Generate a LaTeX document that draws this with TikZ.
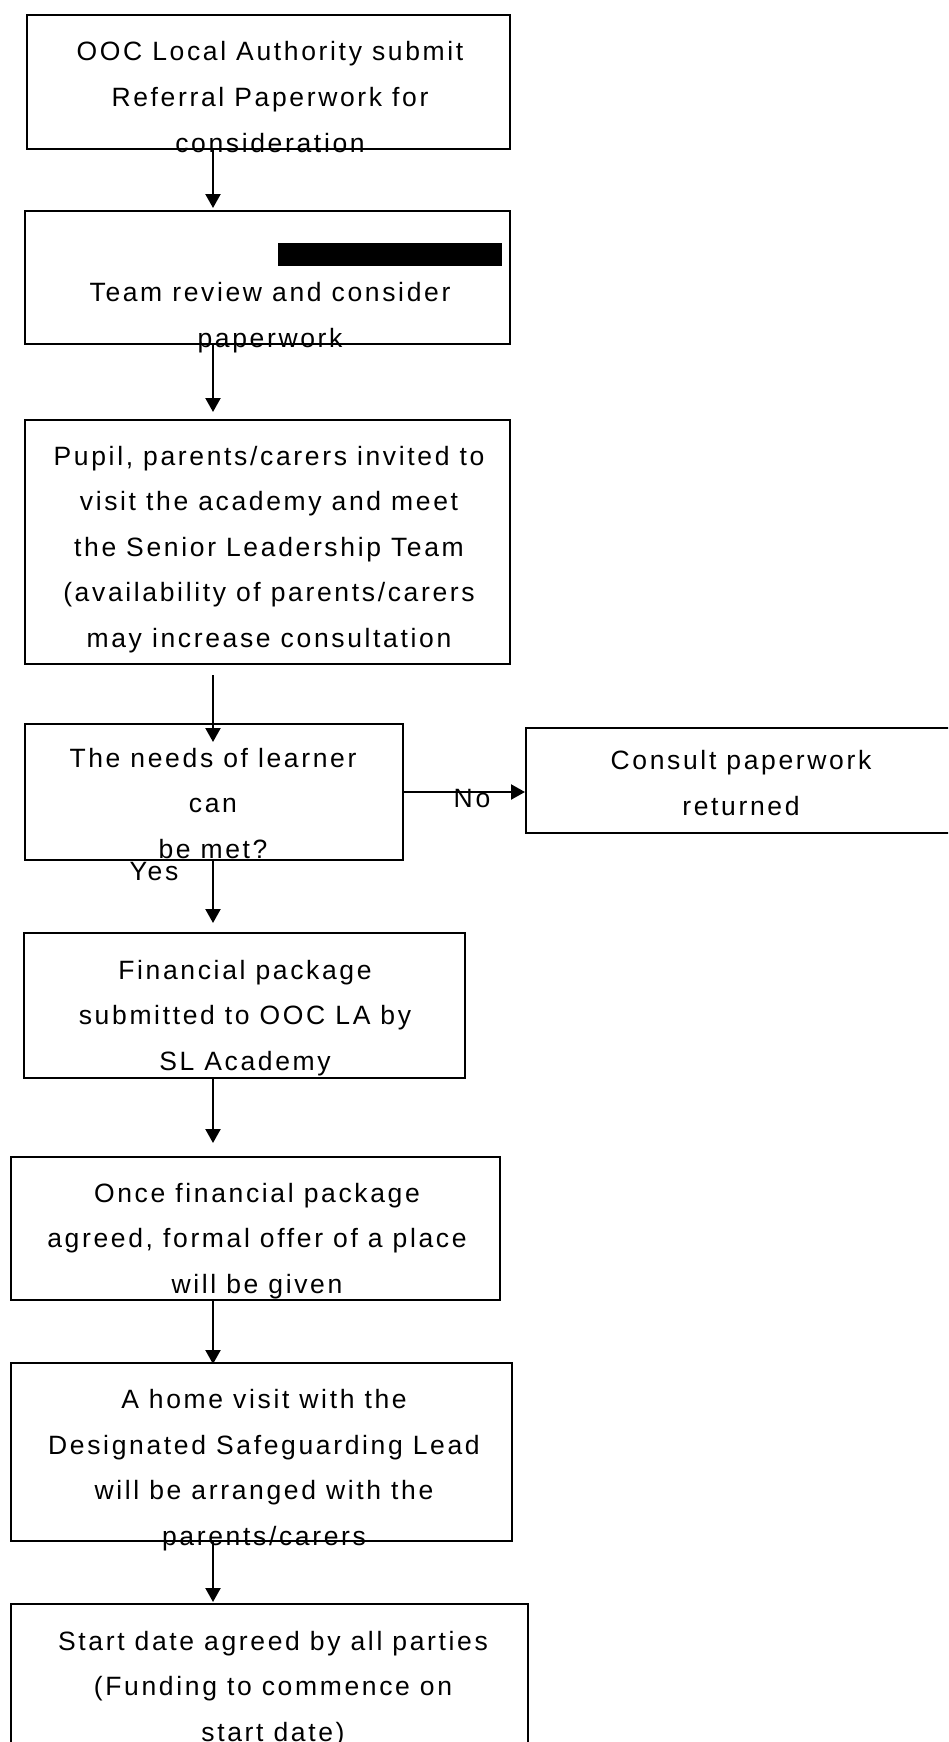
\documentclass[tikz,border=0pt]{standalone}
\usepackage{fontspec}
\setmainfont{Liberation Sans}[LetterSpace=10]
\usetikzlibrary{arrows.meta}

\begin{document}
\begin{tikzpicture}[x=1pt,y=-1pt, % une unité = un pixel de l'image
  boite/.style={draw,line width=2.2pt,anchor=north west,inner sep=0pt},
  texte/.style={align=center,anchor=base,inner sep=0pt,font=\fontsize{26.5}{45.5}\selectfont},
  fleche/.style={line width=2.2pt,-{Triangle[width=15pt,length=14pt]}}]
\useasboundingbox (0,0) rectangle (948,1742); % le cadre de l'image
\clip (0,0) rectangle (948,1742);
\coordinate (axe) at (213,0); % l'axe des flèches verticales
\coordinate (ligneno) at (0,792);
% les boîtes
\node[boite,minimum width=483pt,minimum height=134pt] (b1) at (26,14) {};
\node[boite,minimum width=485pt,minimum height=133pt] (b2) at (24,210) {};
\node[boite,minimum width=485pt,minimum height=244pt] (b3) at (24,419) {};
\node[boite,minimum width=378pt,minimum height=136pt] (b4) at (24,723) {};
\node[boite,minimum width=440pt,minimum height=105pt] (bno) at (525,727) {};
\node[boite,minimum width=441pt,minimum height=145pt] (b5) at (23,932) {};
\node[boite,minimum width=489pt,minimum height=143pt] (b6) at (10,1156) {};
\node[boite,minimum width=501pt,minimum height=178pt] (b7) at (10,1362) {};
\node[boite,minimum width=517pt,minimum height=220pt] (b8) at (10,1603) {};
\fill (278,243) rectangle (502,266); % la bande noire
% les textes (base = ligne du bas)
\node[texte] (t1) at (270,152) {OOC Local Authority submit\\Referral Paperwork for\\consideration};
\node[texte] (t2) at (270,347) {Team review and consider\\paperwork};
\node[texte] (t3) at (269,647) {Pupil, parents/carers invited to\\visit the academy and meet\\the Senior Leadership Team\\(availability of parents/carers\\may increase consultation};
\node[texte] (t4) at (213,858) {The needs of learner\\can\\be met?};
\node[texte] (tno) at (741,815) {Consult paperwork\\returned};
\node[texte] (t5) at (245,1070) {Financial package\\submitted to OOC LA by\\SL Academy};
\node[texte] (t6) at (257,1293) {Once financial package\\agreed, formal offer of a place\\will be given};
\node[texte] (t7) at (264,1545) {A home visit with the\\Designated Safeguarding Lead\\will be arranged with the\\parents/carers};
\node[texte] (t8) at (273,1741) {Start date agreed by all parties\\(Funding to commence on\\start date)};
\node[texte] (lno) at (472,807) {No};
\node[texte] (loui) at (154,880) {Yes};
% les flèches
\draw[fleche,shorten >=2pt] (b1.south -| axe) -- (b2.north -| axe);
\draw[fleche,shorten >=7pt] (b2.south -| axe) -- (b3.north -| axe);
\draw[fleche,shorten <=10pt,shorten >=-19pt] (b3.south -| axe) -- (b4.north -| axe);
\draw[fleche] (b4.east |- ligneno) -- (bno.west |- ligneno);
\draw[fleche,shorten >=9pt] (b4.south -| axe) -- (b5.north -| axe);
\draw[fleche,shorten >=13pt] (b5.south -| axe) -- (b6.north -| axe);
\draw[fleche,shorten >=-2pt] (b6.south -| axe) -- (b7.north -| axe);
\draw[fleche,shorten >=1pt] (b7.south -| axe) -- (b8.north -| axe);
\end{tikzpicture}
\end{document}
